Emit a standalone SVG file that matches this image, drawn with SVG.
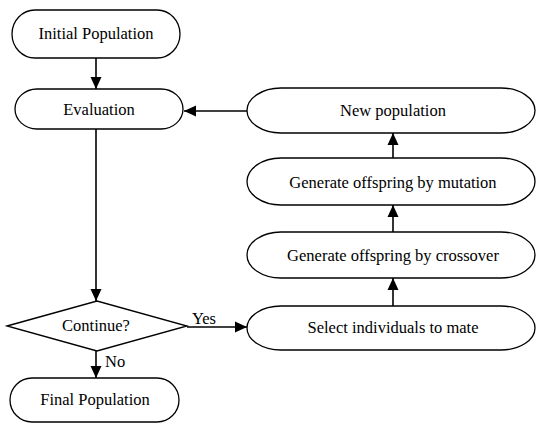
<svg xmlns="http://www.w3.org/2000/svg" width="537" height="425" viewBox="0 0 537 425">
<style>
.s{fill:#fff;stroke:#000;stroke-width:1.3}
text{font-family:"Liberation Serif",Tinos,"DejaVu Serif","Times New Roman",serif;font-size:16.5px;fill:#000}
.t{text-anchor:middle}
.c{stroke:#000;stroke-width:1.6;fill:none;marker-end:url(#a)}
</style>
<defs>
<marker id="a" markerWidth="12" markerHeight="12" refX="12" refY="6" orient="auto" markerUnits="userSpaceOnUse">
<path d="M0,0.5 L12,6 L0,11.5 Z" fill="#000"/>
</marker>
</defs>
<g id="connectors">
<line class="c" x1="96" y1="58" x2="96" y2="89"/>
<line class="c" x1="247" y1="111" x2="184" y2="111"/>
<line class="c" x1="96" y1="129" x2="96" y2="301"/>
<line class="c" x1="187" y1="327" x2="247" y2="327"/>
<line class="c" x1="96" y1="351" x2="96" y2="378"/>
<line class="c" x1="393" y1="306" x2="393" y2="278"/>
<line class="c" x1="393" y1="232" x2="393" y2="205"/>
<line class="c" x1="393" y1="158" x2="393" y2="133"/>
<text x="192" y="324">Yes</text>
<text x="105" y="367">No</text>
</g>
<g id="initial">
<rect class="s" x="12" y="10" width="168" height="48" rx="23" ry="24"/>
<text class="t" x="96" y="39">Initial Population</text>
</g>
<g id="evaluation">
<rect class="s" x="15" y="89" width="168" height="40" rx="22" ry="20"/>
<text class="t" x="99" y="115">Evaluation</text>
</g>
<g id="newpop">
<rect class="s" x="247" y="88" width="288" height="45" rx="34" ry="22.5"/>
<text class="t" x="393" y="116">New population</text>
</g>
<g id="mutation">
<rect class="s" x="247" y="158" width="288" height="47" rx="34" ry="23.5"/>
<text class="t" x="393" y="188">Generate offspring by mutation</text>
</g>
<g id="crossover">
<rect class="s" x="247" y="232" width="288" height="46" rx="34" ry="23"/>
<text class="t" x="393" y="261">Generate offspring by crossover</text>
</g>
<g id="select">
<rect class="s" x="247" y="306" width="288" height="44" rx="34" ry="22"/>
<text class="t" x="393" y="333">Select individuals to mate</text>
</g>
<g id="continue">
<polygon class="s" points="7,326 97,301 187,326 97,351"/>
<text class="t" x="96" y="331">Continue?</text>
</g>
<g id="final">
<rect class="s" x="10" y="378" width="169" height="44" rx="22" ry="22"/>
<text class="t" x="95" y="405">Final Population</text>
</g>
</svg>
